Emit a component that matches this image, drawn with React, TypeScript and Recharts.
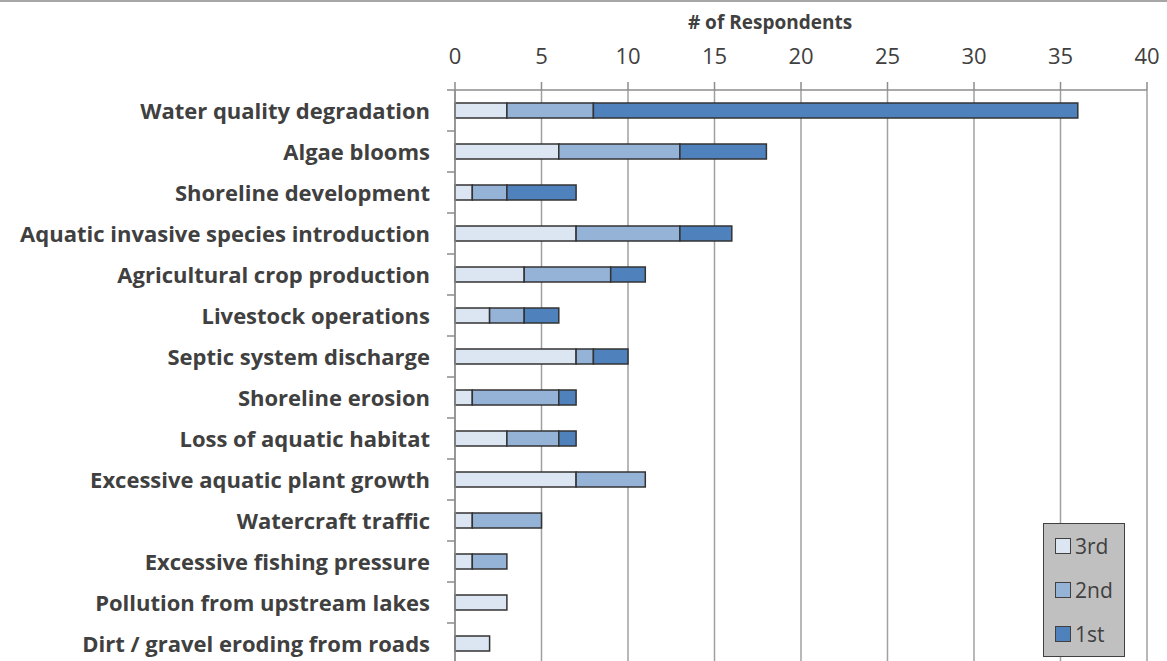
import React from 'react';
import { BarChart, Bar, XAxis, YAxis, CartesianGrid } from 'recharts';

const categories = [
  'Water quality degradation',
  'Algae blooms',
  'Shoreline development',
  'Aquatic invasive species introduction',
  'Agricultural crop production',
  'Livestock operations',
  'Septic system discharge',
  'Shoreline erosion',
  'Loss of aquatic habitat',
  'Excessive aquatic plant growth',
  'Watercraft traffic',
  'Excessive fishing pressure',
  'Pollution from upstream lakes',
  'Dirt / gravel eroding from roads',
];

const third = [3, 6, 1, 7, 4, 2, 7, 1, 3, 7, 1, 1, 3, 2];
const second = [5, 7, 2, 6, 5, 2, 1, 5, 3, 4, 4, 2, 0, 0];
const first = [28, 5, 4, 3, 2, 2, 2, 1, 1, 0, 0, 0, 0, 0];

const xTicks = [0, 5, 10, 15, 20, 25, 30, 35, 40];

const data = categories.map((name, i) => ({
  name,
  third: third[i],
  second: second[i],
  first: first[i],
}));

const FONT = '"Open Sans", Lato, sans-serif';
const TEXT = '#404040';

const series = [
  { key: 'third', label: '3rd', color: '#DCE6F2' },
  { key: 'second', label: '2nd', color: '#95B3D7' },
  { key: 'first', label: '1st', color: '#4F81BD' },
];

// label plus a short tick at the band boundary above it
// (x arrives already shifted left by tickSize + tickMargin = 8)
const CategoryTick = (props: any) => {
  const { x, y, payload } = props;
  const half = payload && payload.offset ? payload.offset : 20.5;
  return (
    <g>
      <line x1={x + 8} x2={x} y1={y - half} y2={y - half} stroke="#8C8C8C" strokeWidth={1.5} />
      <text
        x={x - 17}
        y={y}
        dy={8}
        textAnchor="end"
        fontFamily={FONT}
        fontWeight={700}
        fontSize={22}
        fill={TEXT}
      >
        {payload.value}
      </text>
    </g>
  );
};

const LegendBox = () => (
  <div
    style={{
      position: 'absolute',
      left: 1043,
      top: 521,
      width: 82,
      height: 134,
      background: '#C0C0C0',
      border: '1.5px solid #404040',
      boxSizing: 'border-box',
      fontFamily: FONT,
    }}
  >
    {series.map((s) => (
      <div key={s.key} style={{ display: 'flex', alignItems: 'center', height: 44, paddingLeft: 11 }}>
        <span
          style={{
            width: 16,
            height: 16,
            background: s.color,
            border: '1.5px solid #404040',
            boxSizing: 'border-box',
            marginRight: 4,
          }}
        />
        <span style={{ fontSize: 21, color: TEXT }}>{s.label}</span>
      </div>
    ))}
  </div>
);

export default function App() {
  return (
    <div
      style={{
        position: 'absolute',
        left: 0,
        top: 0,
        width: 1167,
        height: 661,
        overflow: 'hidden',
        background: '#fff',
        borderTop: '2px solid #A6A6A6',
        boxSizing: 'border-box',
      }}
    >
      <div
        style={{
          position: 'absolute',
          left: 0,
          top: 7,
          width: 1540,
          textAlign: 'center',
          fontFamily: FONT,
          fontWeight: 700,
          fontSize: 19,
          color: TEXT,
          pointerEvents: 'none',
        }}
      >
        # of Respondents
      </div>
      <div style={{ position: 'absolute', left: 0, top: -2 }}>
        <BarChart
          width={1167}
          height={680}
          data={data}
          layout="vertical"
          margin={{ top: 0, right: 20, bottom: 16, left: 0 }}
          barSize={15}
        >
          <CartesianGrid horizontal={false} vertical stroke="#A0A0A0" strokeWidth={1.5} />
          <XAxis
            type="number"
            orientation="top"
            domain={[0, 40]}
            ticks={xTicks}
            height={90}
            tickSize={8}
            tickMargin={18}
            axisLine={{ stroke: '#8C8C8C', strokeWidth: 1.5 }}
            tickLine={{ stroke: '#8C8C8C', strokeWidth: 1.5 }}
            tick={{ fontFamily: FONT, fontSize: 22, fill: TEXT }}
            interval={0}
          />
          <YAxis
            type="category"
            dataKey="name"
            width={455}
            tickLine={false}
            axisLine={{ stroke: '#8C8C8C', strokeWidth: 1.5 }}
            tick={<CategoryTick />}
            interval={0}
          />
          {series.map((s) => (
            <Bar
              key={s.key}
              dataKey={s.key}
              name={s.label}
              stackId="a"
              fill={s.color}
              stroke="#333333"
              strokeWidth={1.5}
              isAnimationActive={false}
            />
          ))}
        </BarChart>
      </div>
      <LegendBox />
    </div>
  );
}
